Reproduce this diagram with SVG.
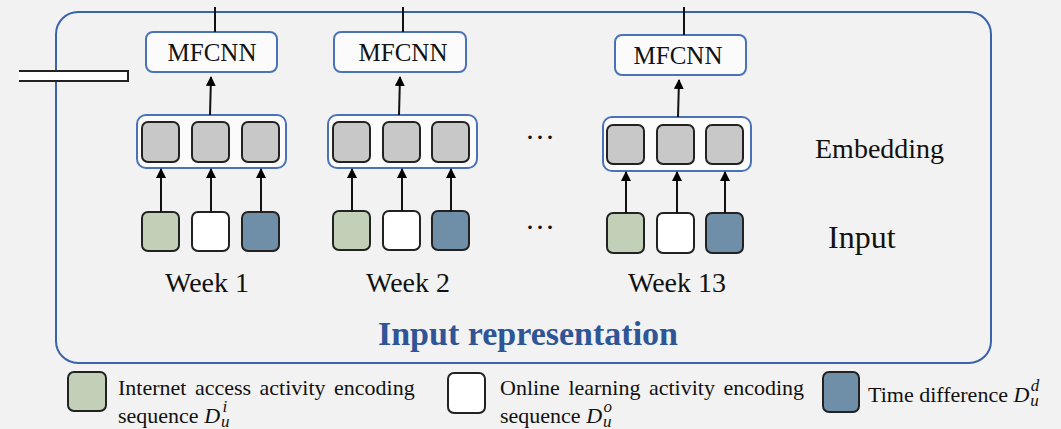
<svg xmlns="http://www.w3.org/2000/svg" width="1061" height="429" viewBox="0 0 1061 429">
  <defs>
    <marker id="arrow" viewBox="0 0 10 10" refX="9" refY="5" markerWidth="10" markerHeight="10" markerUnits="userSpaceOnUse" orient="auto">
      <path d="M0,0 L10,5 L0,10 Z" fill="#000"/>
    </marker>
    <style>
      .serif { font-family: "Liberation Serif", "Times New Roman", serif; fill: #111; }
      .frame { fill: none; stroke: #3a63ad; stroke-width: 2; }
      .blk { fill: #fbfbfb; stroke: #4a72b8; stroke-width: 2; }
      .emb { fill: #c8c8c8; stroke: #222; stroke-width: 2; }
      .green { fill: #c3d0b8; stroke: #222; stroke-width: 2; }
      .white { fill: #ffffff; stroke: #222; stroke-width: 2; }
      .blue { fill: #6f8ea8; stroke: #222; stroke-width: 2; }
      .edge { stroke: #111; stroke-width: 2; fill: none; }
      .arr { stroke: #111; stroke-width: 2; fill: none; marker-end: url(#arrow); }
      .mf { font-size: 25px; text-anchor: middle; }
      .wk { font-size: 28px; text-anchor: middle; }
      .leg { font-size: 22px; }
      .it { font-style: italic; }
      .sc { font-style: italic; font-size: 17px; }
    </style>
  </defs>

  <rect width="1061" height="429" fill="#f2f2f2"/>

  <!-- outer frame -->
  <g id="frame">
    <rect class="frame" x="56" y="12" width="935" height="351" rx="22"/>
    <text class="serif" x="528" y="345" font-size="34" font-weight="bold" text-anchor="middle" style="fill:#2f5597">Input representation</text>
  </g>

  <!-- side bar entering from the left -->
  <g id="side-bar">
    <path d="M19,71 H128 V81 H19" fill="#ffffff" stroke="#222" stroke-width="2"/>
  </g>

  <!-- week 1 -->
  <g id="week1">
    <rect class="blk" x="146" y="32" width="131" height="40" rx="7"/>
    <text class="serif mf" x="212" y="61">MFCNN</text>
    <rect class="blk" x="137" y="115" width="149" height="53" rx="9"/>
    <rect class="emb" x="142" y="122" width="37" height="40" rx="6"/>
    <rect class="emb" x="192" y="122" width="37" height="40" rx="6"/>
    <rect class="emb" x="242" y="122" width="37" height="40" rx="6"/>
    <rect class="green" x="142" y="212" width="37" height="39" rx="6"/>
    <rect class="white" x="192" y="212" width="37" height="39" rx="6"/>
    <rect class="blue" x="242" y="212" width="37" height="39" rx="6"/>
    <text class="serif wk" x="207" y="292">Week 1</text>
  </g>

  <!-- week 2 -->
  <g id="week2">
    <rect class="blk" x="334" y="32" width="132" height="40" rx="7"/>
    <text class="serif mf" x="403" y="61">MFCNN</text>
    <rect class="blk" x="328" y="115" width="149" height="53" rx="9"/>
    <rect class="emb" x="333" y="122" width="37" height="40" rx="6"/>
    <rect class="emb" x="383" y="122" width="37" height="40" rx="6"/>
    <rect class="emb" x="432" y="122" width="37" height="40" rx="6"/>
    <rect class="green" x="333" y="211" width="37" height="39" rx="6"/>
    <rect class="white" x="383" y="211" width="37" height="39" rx="6"/>
    <rect class="blue" x="432" y="211" width="37" height="39" rx="6"/>
    <text class="serif wk" x="408" y="292">Week 2</text>
  </g>

  <!-- ellipsis between week 2 and week 13 -->
  <g id="ellipsis">
    <text class="serif" x="540" y="147" font-size="30" text-anchor="middle">···</text>
    <text class="serif" x="540" y="237" font-size="30" text-anchor="middle">···</text>
  </g>

  <!-- week 13 -->
  <g id="week13">
    <rect class="blk" x="615" y="35" width="131" height="40" rx="7"/>
    <text class="serif mf" x="678" y="64">MFCNN</text>
    <rect class="blk" x="603" y="117" width="148" height="54" rx="9"/>
    <rect class="emb" x="607" y="125" width="37" height="39" rx="6"/>
    <rect class="emb" x="657" y="125" width="37" height="39" rx="6"/>
    <rect class="emb" x="706" y="125" width="37" height="39" rx="6"/>
    <rect class="green" x="607" y="213" width="37" height="40" rx="6"/>
    <rect class="white" x="657" y="213" width="37" height="40" rx="6"/>
    <rect class="blue" x="706" y="213" width="37" height="40" rx="6"/>
    <text class="serif wk" x="677" y="292">Week 13</text>
  </g>

  <!-- row labels -->
  <g id="labels">
    <text class="serif" x="815" y="158" font-size="28">Embedding</text>
    <text class="serif" x="828" y="248" font-size="32">Input</text>
  </g>

  <!-- connectors -->
  <g id="connectors">
    <line class="edge" x1="215" y1="7" x2="215" y2="32"/>
    <line class="edge" x1="403" y1="7" x2="403" y2="32"/>
    <line class="edge" x1="684" y1="7" x2="684" y2="35"/>

    <line class="arr" x1="210" y1="115" x2="211" y2="77"/>
    <line class="arr" x1="399" y1="115" x2="400" y2="77"/>
    <line class="arr" x1="678" y1="117" x2="679" y2="80"/>

    <line class="arr" x1="161" y1="212" x2="161" y2="169"/>
    <line class="arr" x1="211" y1="212" x2="211" y2="169"/>
    <line class="arr" x1="261" y1="212" x2="261" y2="169"/>

    <line class="arr" x1="352" y1="211" x2="352" y2="169"/>
    <line class="arr" x1="402" y1="211" x2="402" y2="169"/>
    <line class="arr" x1="451" y1="211" x2="451" y2="169"/>

    <line class="arr" x1="626" y1="213" x2="626" y2="172"/>
    <line class="arr" x1="677" y1="213" x2="677" y2="172"/>
    <line class="arr" x1="725" y1="213" x2="725" y2="172"/>
  </g>

  <!-- legend -->
  <g id="legend-internet">
    <rect class="green" x="68" y="372" width="38" height="39" rx="6"/>
    <text class="serif leg" x="118" y="395" word-spacing="3">Internet access activity encoding</text>
    <text class="serif leg" x="118" y="423">sequence <tspan class="it">D</tspan><tspan class="sc" dx="1" dy="4">u</tspan><tspan class="sc" dx="-7" dy="-15">i</tspan></text>
  </g>
  <g id="legend-online">
    <rect class="white" x="448" y="373" width="37" height="40" rx="6"/>
    <text class="serif leg" x="500" y="395" word-spacing="3">Online learning activity encoding</text>
    <text class="serif leg" x="500" y="423">sequence <tspan class="it">D</tspan><tspan class="sc" dx="1" dy="4">u</tspan><tspan class="sc" dx="-8" dy="-15">o</tspan></text>
  </g>
  <g id="legend-time">
    <rect class="blue" x="823" y="372" width="36" height="40" rx="6"/>
    <text class="serif leg" x="868" y="402">Time difference <tspan class="it">D</tspan><tspan class="sc" dx="1" dy="4">u</tspan><tspan class="sc" dx="-8" dy="-15">d</tspan></text>
  </g>
</svg>
